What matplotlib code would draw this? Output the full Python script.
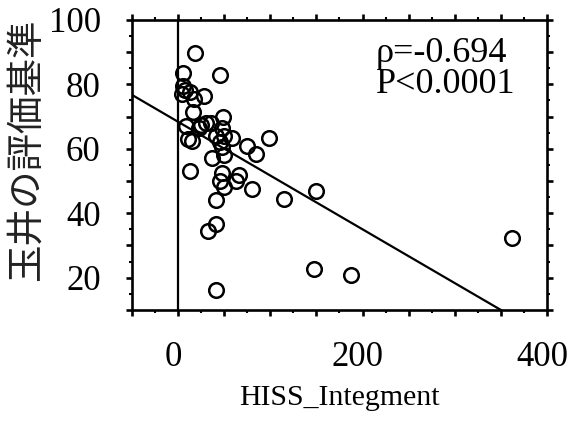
import numpy as np
import matplotlib
matplotlib.use('Agg')
import matplotlib.pyplot as plt
import matplotlib.transforms as mtransforms
from matplotlib.ticker import MultipleLocator

plt.rcParams['font.family'] = ['Liberation Serif', 'Noto Sans CJK JP']

# HISS_Integment と玉井の評価基準
hiss = [5, 18, 45, 5, 8, 4, 13, 17, 28, 16,
        9, 30, 23, 36, 25, 11, 15, 49, 48, 41,
        50, 59, 46, 48, 75, 99, 85, 37, 50, 13,
        48, 66, 46, 63, 50, 80, 115, 41, 150, 41,
        32, 147, 188, 41, 362]
tamai = [83.5, 89.7, 82.8, 79.5, 78.3, 77.0, 77.5, 75.5, 76.5, 71.3,
         67.0, 68.0, 66.5, 68.0, 67.5, 63.0, 62.5, 70.0, 66.5, 64.0,
         64.0, 63.5, 62.0, 60.5, 61.0, 63.5, 58.3, 57.0, 58.0, 53.0,
         52.5, 52.0, 50.0, 50.0, 48.0, 47.5, 44.5, 44.0, 47.0, 36.5,
         34.5, 22.7, 20.8, 16.3, 32.2]

# 回帰直線
intercept = 68.4
slope = -0.167
rho_text = 'ρ=-0.694\nP<0.0001'

xlim = (-50, 400)
ylim = (10, 100)

fig = plt.figure(figsize=(5.71, 4.25), dpi=100)
ax = fig.add_axes([0.231, 0.271, 0.727, 0.682])

ax.axvline(0, color='black', lw=1.6, zorder=1)
xs = np.array(xlim, dtype=float)
ax.plot(xs, intercept + slope * xs, color='black', lw=1.6, zorder=2)
ax.plot(hiss, tamai, 'o', mfc='none', mec='black', ms=10.5, mew=1.8, zorder=3)

ax.set_xlim(*xlim)
ax.set_ylim(*ylim)

ax.xaxis.set_minor_locator(MultipleLocator(25))
ax.yaxis.set_minor_locator(MultipleLocator(5))
ax.set_xticks([-50, 0, 50, 100, 150, 200, 250, 300, 350, 400])
ax.set_xticklabels(['', '0', '', '', '', '200', '', '', '', '400'])
ax.set_yticks([10, 20, 30, 40, 50, 60, 70, 80, 90, 100])
ax.set_yticklabels(['', '20', '', '40', '', '60', '', '80', '', '100'])

for s in ax.spines.values():
    s.set_linewidth(1.9)
ax.tick_params(which='major', direction='out', length=4.5, width=1.9,
               top=True, right=True, labelsize=25, pad=18)
ax.tick_params(which='minor', direction='out', length=2.5, width=1.5,
               top=True, right=True)
# x 目盛ラベルを少し左へずらす
shift = mtransforms.ScaledTranslation(-5 / 100, 0, fig.dpi_scale_trans)
for lbl in ax.get_xticklabels():
    lbl.set_transform(lbl.get_transform() + shift)

ax.set_xlabel('HISS_Integment', fontsize=21.5)
ax.xaxis.set_label_coords(0.5, -0.26)
ax.set_ylabel('玉井の評価基準', fontsize=27, color='#222222')
ax.yaxis.set_label_coords(-0.21, 0.552)

ax.text(0.588, 0.83, rho_text, transform=ax.transAxes, fontsize=26,
        ha='left', va='center', linespacing=0.92)

fig.savefig('out.png', dpi=100)
